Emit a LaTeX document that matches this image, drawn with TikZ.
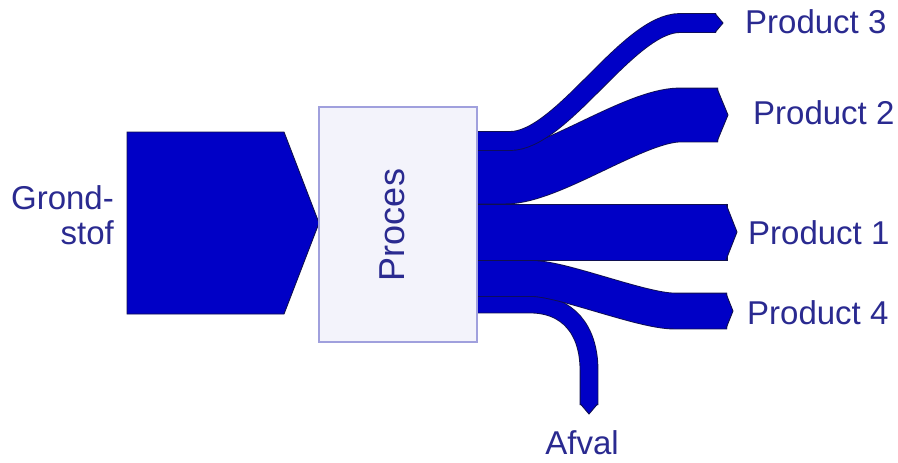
\documentclass[tikz,border=0pt]{standalone}
\usepackage{fontspec}
\setmainfont{Liberation Sans}
\definecolor{flowblue}{HTML}{0000C6}
\definecolor{flowedge}{HTML}{101050}
\definecolor{labelblue}{HTML}{2A2A90}
\definecolor{boxfill}{HTML}{F3F3FB}
\definecolor{boxedge}{HTML}{A0A0DD}
\tikzset{
  band/.style={draw=flowedge, line width=0.9pt, double=flowblue, double distance=#1, line cap=butt},
  tipfill/.style={fill=flowblue},
  tipedge/.style={draw=flowedge, line width=0.9pt, line join=miter},
  lbl/.style={text=labelblue, font=\fontsize{33}{35}\selectfont, inner sep=0pt},
  procbox/.style={draw=boxedge, line width=1.5pt, fill=boxfill, inner sep=0pt}
}
% arrow head at the end of a band: fill, then outline only the two outer edges
\newcommand{\flowtip}[3]{%
  \fill[tipfill] #1 -- #2 -- #3 -- cycle;
  \draw[tipedge] #1 -- #2 -- #3;}
\begin{document}
\begin{tikzpicture}[x=1pt, y=-1pt]
\useasboundingbox (0,0) rectangle (898,463);

% raw material entering the process
\filldraw[fill=flowblue, draw=flowedge, line width=0.9pt, line join=miter]
  (127,132) -- (284,132) -- (319,223) -- (284,314) -- (127,314) -- cycle;

% waste stream
\coordinate (afvalend) at (589,405);
\draw[band=17pt] (470,304) -- (530,304) .. controls (568,304) and (589,330) .. (589,370) -- (afvalend);
\flowtip{(580.5,404)}{(589,414)}{(597.5,404)}

% product 4
\coordinate (p4end) at (727,311);
\draw[band=35pt] (470,278.5) -- (532,278.5) .. controls (562,278.5) and (642,311) .. (674,311) -- (p4end);
\flowtip{(726,293.5)}{(733,311)}{(726,328.5)}

% product 1
\filldraw[fill=flowblue, draw=flowedge, line width=0.9pt] (470,204) rectangle (727,260);
\flowtip{(726,204)}{(737,232)}{(726,260)}

% product 2
\coordinate (p2end) at (718,115);
\draw[band=53pt] (470,177) -- (505,177) .. controls (550,177) and (635,115) .. (680,115) -- (p2end);
\flowtip{(717,88.5)}{(728,115)}{(717,141.5)}

% product 3
\coordinate (p3end) at (716,23);
\draw[band=18pt] (470,141) -- (510,141) .. controls (562,141) and (628,23) .. (680,23) -- (p3end);
\flowtip{(715,13.5)}{(723,23)}{(715,32.5)}

% process block
\node[procbox, minimum width=158pt, minimum height=235pt] (box) at (398,224.5) {};
\node[lbl, font=\fontsize{36}{40}\selectfont, rotate=90] (proclbl) at (392,225) {Proces};

% labels
\node[lbl, align=right, anchor=east] (grond) at (114,215) {Grond-\\stof};
\node[lbl, anchor=west] (p3) at (745,22) {Product 3};
\node[lbl, anchor=west] (p2) at (753,113) {Product 2};
\node[lbl, anchor=west] (p1) at (748,233) {Product 1};
\node[lbl, anchor=west] (p4) at (747,313) {Product 4};
\node[lbl] (afval) at (582,443) {Afval};
\end{tikzpicture}
\end{document}
